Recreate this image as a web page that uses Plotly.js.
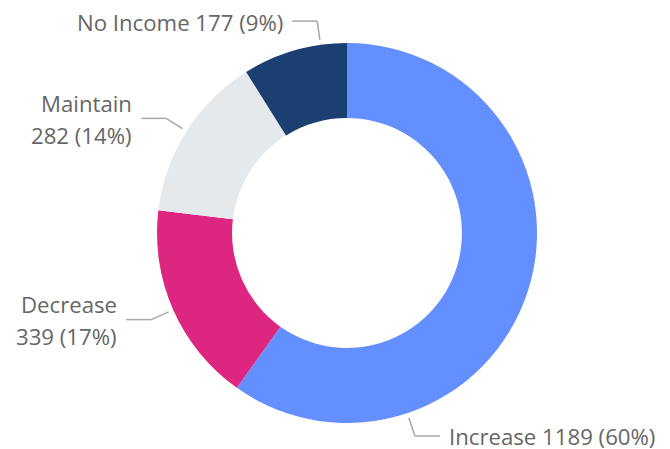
<!DOCTYPE html>
<html>
<head>
<meta charset="utf-8">
<script src="https://cdn.plot.ly/plotly-3.0.1.min.js"></script>
<style>html,body{margin:0;padding:0;background:#fff;}#chart{width:670px;height:449px;}</style>
</head>
<body>
<div id="chart"></div>
<script>
// ---- data ----
var categories = ["Increase", "Decrease", "Maintain", "No Income"];
var counts = [1189, 339, 282, 177];
var colors = ["#648FFF", "#DC267F", "#E6E9EC", "#1C3F72"];

// ---- label style (layout only) ----
var labelTwoLines = [false, true, true, false];
// optional anchor angle override (deg clockwise from 12 o'clock), null = slice midpoint
var labelAngleOverride = [161.5, null, null, 352];

var W = 670, H = 449;
var cx = 347, cy = 233, R = 190;
var total = counts.reduce(function(a, b){ return a + b; }, 0);

var trace = {
  type: "pie",
  labels: categories,
  values: counts,
  marker: { colors: colors, line: { width: 0 } },
  hole: 0.605,
  sort: false,
  direction: "clockwise",
  rotation: 0,
  textinfo: "none",
  hoverinfo: "label+value+percent",
  domain: { x: [(cx - R) / W, (cx + R) / W], y: [(H - cy - R) / H, (H - cy + R) / H] }
};

var shapes = [], annotations = [];
var cum = 0;
var font = { family: "Open Sans, sans-serif", size: 22.2, color: "#666666" };
function px(x){ return x / W; }
function py(y){ return 1 - y / H; }
for (var i = 0; i < counts.length; i++) {
  var start = cum / total * 360;
  cum += counts[i];
  var end = cum / total * 360;
  var ang = labelAngleOverride[i] != null ? labelAngleOverride[i] : (start + end) / 2;
  var t = ang * Math.PI / 180;
  var s = Math.sin(t), c = Math.cos(t);
  var x0 = cx + (R + 5) * s, y0 = cy - (R + 5) * c;
  var x1 = cx + (R + 24) * s, y1 = cy - (R + 24) * c;
  var dir = s >= 0 ? 1 : -1;
  var x2 = x1 + dir * 25;
  var lineStyle = { color: "#a8a8a8", width: 1.5 };
  shapes.push({ type: "line", xref: "paper", yref: "paper", x0: px(x0), y0: py(y0), x1: px(x1), y1: py(y1), line: lineStyle });
  shapes.push({ type: "line", xref: "paper", yref: "paper", x0: px(x1), y0: py(y1), x1: px(x2), y1: py(y1), line: lineStyle });
  var pct = Math.round(counts[i] / total * 100);
  var tx = x2 + dir * 8;
  var xanchor = dir > 0 ? "left" : "right";
  if (labelTwoLines[i]) {
    annotations.push({ xref: "paper", yref: "paper", x: px(tx), y: py(y1 - 15), xanchor: xanchor, yanchor: "middle",
      text: categories[i], showarrow: false, font: font, align: xanchor, borderpad: 0 });
    annotations.push({ xref: "paper", yref: "paper", x: px(tx), y: py(y1 + 17), xanchor: xanchor, yanchor: "middle",
      text: counts[i] + " (" + pct + "%)", showarrow: false, font: font, align: xanchor, borderpad: 0 });
  } else {
    annotations.push({ xref: "paper", yref: "paper", x: px(tx), y: py(y1 + 1), xanchor: xanchor, yanchor: "middle",
      text: categories[i] + " " + counts[i] + " (" + pct + "%)", showarrow: false, font: font, align: xanchor, borderpad: 0 });
  }
}

var layout = {
  width: W, height: H,
  margin: { l: 0, r: 0, t: 0, b: 0 },
  showlegend: false,
  paper_bgcolor: "#ffffff",
  shapes: shapes,
  annotations: annotations
};

Plotly.newPlot("chart", [trace], layout, { displayModeBar: false, staticPlot: true });
</script>
</body>
</html>
